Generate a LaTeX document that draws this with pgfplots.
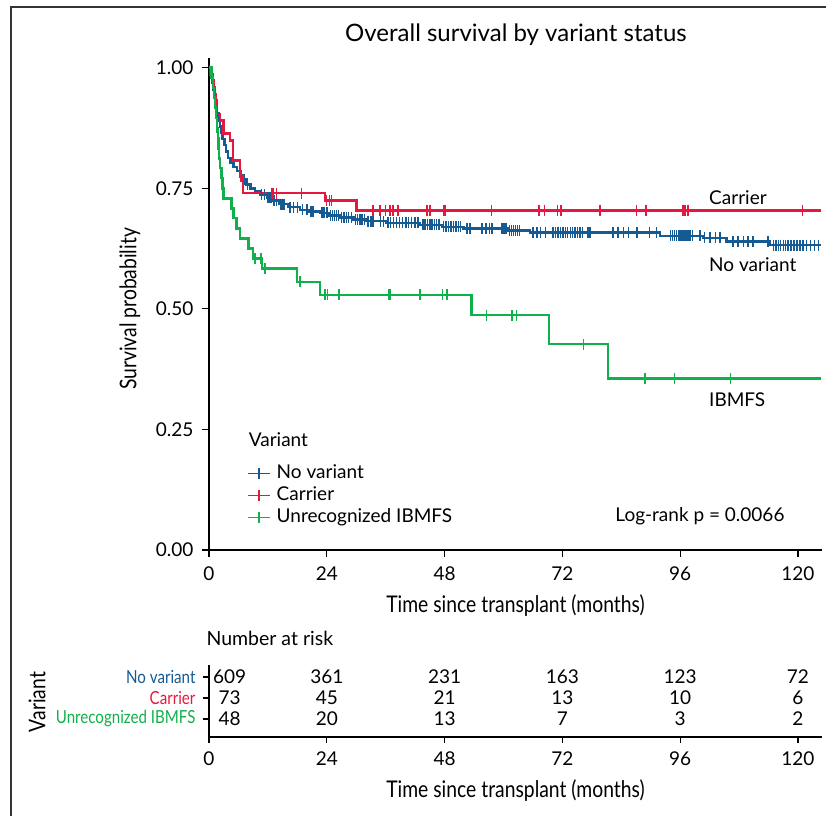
\documentclass[border=0pt]{standalone}
\usepackage{fontspec}
\setmainfont{Lato}
\newfontfamily\condfont[FakeStretch=0.84]{Lato}
\usepackage{pgfplots}
\pgfplotsset{compat=1.18}
\definecolor{kmblue}{HTML}{155A93}
\definecolor{kmred}{HTML}{E4193F}
\definecolor{kmgreen}{HTML}{10B04A}
\definecolor{framegray}{HTML}{333333}
\newcommand{\tsz}{\fontsize{19}{22}\selectfont}
\newcommand{\lsz}{\condfont\fontsize{23}{27}\selectfont}

\pgfplotsset{
  kmbase/.style={
    scale only axis, width=613pt,
    xmin=0, xmax=124.9,
    axis x line*=bottom, axis y line*=left,
    axis line style={line width=1.8pt, black, -},
    xtick={0,24,48,72,96,120}, xticklabels={0,24,48,72,96,120},
    tick align=outside, major tick length=7pt,
    tick style={line width=1.2pt, black},
    ticklabel style={font=\tsz},
  },
  curve/.style={const plot, line width=2.6pt, mark=none},
  cens/.style={only marks, mark=|, mark size=5.5pt, mark options={line width=1.4pt}},
}

\begin{document}
\begin{tikzpicture}
\path[use as bounding box] (0,0) rectangle (826pt,-815pt);
\draw[framegray, line width=2pt] (11pt,-830pt) -- (11pt,-7pt) -- (840pt,-7pt);
\node[font=\fontsize{24}{28}\selectfont] at (516pt,-35pt) {Overall survival by variant status};

% ---- survival curves ----
\begin{axis}[kmbase,
  at={(209pt,-550pt)}, anchor=south west, height=492pt,
  ymin=0, ymax=1.02,
  ytick={0,0.25,0.5,0.75,1}, yticklabels={0.00,0.25,0.50,0.75,1.00},
  xticklabel style={yshift=-6pt},
  yticklabel style={xshift=-5pt},
  clip=false,
  legend style={at={(rel axis cs:0.062,0.178)}, anchor=north west, draw=none, fill=none,
    font=\tsz, inner sep=0pt, row sep=0pt, column sep=4pt,
    nodes={inner sep=2pt, text height=14pt, text depth=4pt}},
  legend cell align=left,
  legend image code/.code={\draw[mark repeat=2,mark phase=2,#1] plot coordinates {(0pt,0pt) (11pt,0pt) (22pt,0pt)};},
]
% No variant
\addplot[curve, kmblue, forget plot] coordinates {
(0,1) (0.3,0.985) (0.6,0.968) (0.9,0.954) (1.1,0.938) (1.3,0.922) (1.6,0.905) (1.9,0.889)
(2.2,0.878) (2.5,0.866) (2.8,0.852) (3.1,0.840) (3.5,0.826) (3.9,0.813) (4.4,0.802) (5.0,0.794)
(5.7,0.786) (6.4,0.777) (7.0,0.768) (7.7,0.758) (8.5,0.750) (9.4,0.743) (10.5,0.737) (11.8,0.730)
(13.0,0.724) (14.4,0.717) (16.2,0.711) (18.5,0.705) (20.5,0.702) (22.6,0.699) (24.6,0.694)
(26.7,0.689) (29.5,0.685) (32.1,0.682) (36.2,0.678) (43,0.674) (47.5,0.670) (51.8,0.666)
(61.0,0.662) (65.4,0.658) (91.9,0.651) (100.7,0.647) (105.5,0.639) (114.3,0.632) (124.7,0.632)
};
\addplot[cens, kmblue, forget plot] coordinates {
(7.2,0.768) (7.9,0.758) (10.7,0.737) (11.3,0.737) (12.0,0.730) (12.4,0.730) (12.7,0.730)
(13.1,0.724) (13.4,0.724) (13.8,0.724) (14.6,0.717) (14.9,0.717) (15.3,0.717) (16.5,0.711)
(17.2,0.711) (18.0,0.711) (19.0,0.705) (20.0,0.705) (20.8,0.702) (21.2,0.702) (23.0,0.699)
(23.4,0.699) (23.9,0.699) (24.2,0.699) (24.8,0.694) (25.2,0.694) (25.6,0.694) (26.0,0.694)
(26.4,0.694) (27.0,0.689) (27.5,0.689) (28.0,0.689) (28.4,0.689) (29.0,0.689) (29.8,0.685)
(30.2,0.685) (30.8,0.685) (31.2,0.685) (31.7,0.685) (32.4,0.682) (33.0,0.682) (33.4,0.682)
(34.9,0.682) (35.5,0.682) (36.5,0.678) (37.0,0.678) (37.6,0.678) (38.2,0.678) (38.8,0.678)
(39.4,0.678) (40.1,0.678) (40.7,0.678) (41.3,0.678) (42.0,0.678) (42.6,0.678) (43.6,0.674)
(44.0,0.674) (44.5,0.674) (45.0,0.674) (45.4,0.674) (45.9,0.674) (46.4,0.674) (46.9,0.674)
(47.8,0.670) (48.3,0.670) (48.8,0.670) (49.3,0.670) (49.8,0.670) (50.3,0.670) (50.8,0.670)
(51.3,0.670) (52.6,0.666) (53.2,0.666) (55.6,0.666) (56.4,0.666) (57.1,0.666) (57.7,0.666)
(59.7,0.666) (60.1,0.666) (60.5,0.666) (61.2,0.662) (61.6,0.662) (62.0,0.662) (62.4,0.662)
(62.8,0.662) (63.3,0.662) (66.0,0.658) (66.8,0.658) (67.5,0.658) (68.5,0.658) (70.1,0.658)
(70.6,0.658) (71.1,0.658) (71.6,0.658) (72.1,0.658) (72.6,0.658) (73.1,0.658) (73.6,0.658)
(74.1,0.658) (74.6,0.658) (75.1,0.658) (75.6,0.658) (76.1,0.658) (77.2,0.658) (77.6,0.658)
(82.3,0.658) (83.3,0.658) (84.5,0.658) (85.5,0.658) (87.2,0.658) (89.8,0.658) (91.2,0.658)
(94.0,0.651) (94.4,0.651) (94.8,0.651) (95.2,0.651) (95.6,0.651) (96.0,0.651) (96.4,0.651)
(96.8,0.651) (97.2,0.651) (97.6,0.651) (98.0,0.651) (98.5,0.651) (100.0,0.651) (100.9,0.647)
(102.1,0.647) (103.2,0.647) (104.1,0.647) (106.8,0.639) (107.8,0.639) (108.9,0.639)
(109.8,0.639) (110.8,0.639) (113.9,0.639) (115.0,0.632) (115.5,0.632) (116.0,0.632)
(116.5,0.632) (117.0,0.632) (117.5,0.632) (118.0,0.632) (118.6,0.632) (119.2,0.632)
(119.8,0.632) (120.4,0.632) (121.0,0.632) (121.8,0.632) (122.6,0.632) (123.4,0.632) (124.2,0.632)
};
% Carrier
\addplot[curve, kmred, forget plot] coordinates {
(0,1) (0.4,0.986) (0.7,0.973) (0.9,0.959) (1.1,0.945) (1.3,0.932) (1.5,0.904) (2.2,0.890)
(2.9,0.863) (4.3,0.849) (4.9,0.808) (6.3,0.774) (6.9,0.740) (23.6,0.724) (30.0,0.704) (124.7,0.704)
};
\addplot[cens, kmred, forget plot] coordinates {
(6.5,0.774) (12.8,0.740) (13.2,0.740) (13.8,0.740) (18.9,0.740) (24.0,0.724) (24.5,0.724)
(25.0,0.724) (33.4,0.704) (34.8,0.704) (35.9,0.704) (36.9,0.704) (37.5,0.704) (38.5,0.704)
(44.4,0.704) (45.0,0.704) (47.9,0.704) (48.1,0.704) (57.5,0.704) (67.2,0.704) (68.4,0.704)
(71.0,0.704) (71.7,0.704) (79.7,0.704) (87.1,0.704) (89.0,0.704) (96.6,0.704) (97.0,0.704)
(97.6,0.704) (120.9,0.704)
};
% Unrecognized IBMFS
\addplot[curve, kmgreen, forget plot] coordinates {
(0,1) (0.5,0.979) (0.8,0.958) (1.0,0.938) (1.2,0.917) (1.4,0.896) (1.6,0.875) (1.8,0.854)
(1.9,0.833) (2.0,0.812) (2.2,0.792) (2.6,0.771) (2.8,0.750) (2.9,0.729) (4.6,0.708) (5.0,0.688)
(5.6,0.667) (6.3,0.646) (8.0,0.625) (9.0,0.604) (10.8,0.583) (17.9,0.556) (22.6,0.529)
(53.5,0.487) (69.3,0.427) (81.3,0.356) (124.7,0.356)
};
\addplot[cens, kmgreen, forget plot] coordinates {
(1.6,0.875) (9.4,0.604) (10.6,0.604) (11.4,0.583) (18.5,0.556) (23.6,0.529) (24.2,0.529)
(26.5,0.529) (36.6,0.529) (36.9,0.529) (43.0,0.529) (47.6,0.529) (48.5,0.529) (56.6,0.487)
(61.7,0.487) (62.6,0.487) (76.3,0.427) (88.8,0.356) (94.9,0.356) (106.2,0.356)
};
\addlegendimage{kmblue, line width=1.5pt, mark=+, mark size=5.5pt, mark options={line width=1.5pt}}
\addlegendentry{No variant}
\addlegendimage{kmred, line width=1.5pt, mark=+, mark size=5.5pt, mark options={line width=1.5pt}}
\addlegendentry{Carrier}
\addlegendimage{kmgreen, line width=1.5pt, mark=+, mark size=5.5pt, mark options={line width=1.5pt}}
\addlegendentry{Unrecognized IBMFS}
\node[anchor=west, font=\tsz] at (axis cs:7.4,0.228) {Variant};
\node[anchor=west, font=\tsz] at (axis cs:82.1,0.071) {Log-rank p = 0.0066};
\node[anchor=west, font=\tsz] at (axis cs:101.2,0.730) {Carrier};
\node[anchor=west, font=\tsz] at (axis cs:101.2,0.591) {No variant};
\node[anchor=west, font=\tsz] at (axis cs:101.2,0.311) {IBMFS};
\end{axis}

\node[font=\lsz] at (515.5pt,-606pt) {Time since transplant (months)};
\node[rotate=90, font=\lsz] at (130pt,-309pt) {Survival probability};
\node[anchor=west, font=\fontsize{19.5}{22}\selectfont] at (203pt,-638pt) {Number at risk};
\node[rotate=90, font=\lsz] at (37pt,-702pt) {Variant};
\node[font=\lsz] at (515.5pt,-791pt) {Time since transplant (months)};

% ---- number at risk ----
\begin{axis}[kmbase,
  at={(209pt,-737pt)}, anchor=south west, height=72pt,
  ymin=0.14, ymax=3.57,
  ytick={1,2,3},
  yticklabels={{\color{kmgreen}Unrecognized IBMFS},{\color{kmred}Carrier},{\color{kmblue}No variant}},
  yticklabel style={font=\condfont\fontsize{18}{21}\selectfont, xshift=-4pt},
  xticklabel style={yshift=-5pt},
  major tick length=6pt,
  clip=false,
]
\addplot[draw=none, mark=none, nodes near coords, point meta=explicit symbolic,
  every node near coord/.append style={anchor=center, font=\tsz, text=black, inner sep=0pt}]
  table[meta=n] {
x y n
4.2 3 609
24 3 361
48 3 231
72 3 163
96 3 123
120 3 72
4.2 2 73
24 2 45
48 2 21
72 2 13
96 2 10
120 2 6
4.2 1 48
24 1 20
48 1 13
72 1 7
96 1 3
120 1 2
};
\end{axis}
\end{tikzpicture}
\end{document}
